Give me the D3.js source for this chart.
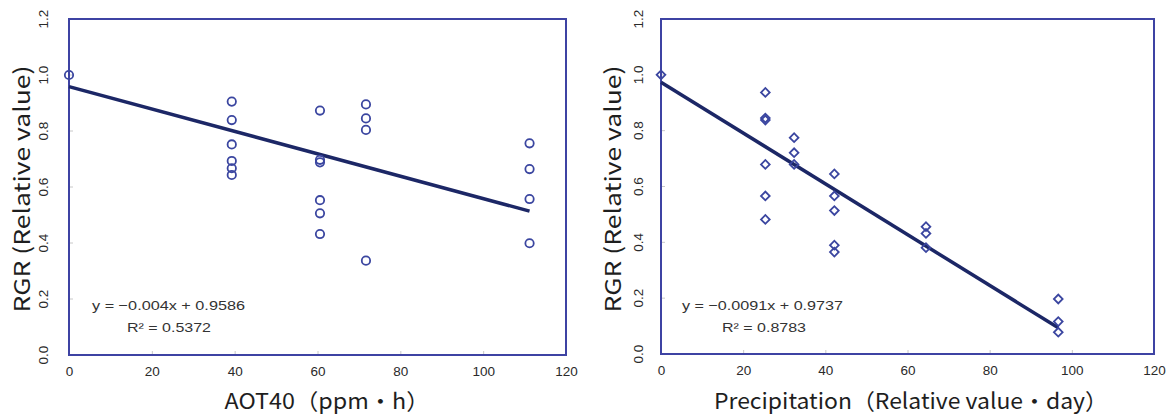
<!DOCTYPE html>
<html lang="en">
<head>
  <meta charset="UTF-8" />
  <title>RGR vs AOT40 and Precipitation</title>
  <script src="https://cdnjs.cloudflare.com/ajax/libs/d3/7.8.5/d3.min.js"></script>
  <style>
    body {
      margin: 0;
      background: #fff;
    }
    svg {
      display: block;
    }
    .tick text {
      font-family: "Liberation Sans", Arial, sans-serif;
      font-size: 13.5px;
      fill: #2a2a2a;
    }
    .tick line {
      stroke: #c8c8c8;
    }
    .title {
      font-family: "Noto Sans CJK JP", "Noto Sans", sans-serif;
      font-size: 22px;
      fill: #1e1e1e;
    }
    .eq {
      font-family: "Liberation Sans", Arial, sans-serif;
      font-size: 13.5px;
      fill: #333;
    }
  </style>
</head>
<body>
  <svg id="chart" width="1172" height="414"></svg>

  <script>
    // ticks shared by both panels
    const xTicks = [0, 20, 40, 60, 80, 100, 120];
    const yTicks = [0, 0.2, 0.4, 0.6, 0.8, 1.0, 1.2];

    // left panel: AOT40
    const aotX = [0,
      39.3, 39.3, 39.3, 39.3, 39.3, 39.3,
      60.6, 60.6, 60.6, 60.6, 60.6, 60.6,
      71.7, 71.7, 71.7, 71.7,
      111.2, 111.2, 111.2, 111.2];
    const aotY = [1.0,
      0.905, 0.839, 0.752, 0.693, 0.667, 0.643,
      0.873, 0.697, 0.688, 0.553, 0.506, 0.432,
      0.895, 0.845, 0.804, 0.337,
      0.756, 0.664, 0.557, 0.399];
    const aotFit = { slope: -0.004, intercept: 0.9586, r2: "0.5372" };

    // right panel: precipitation
    const precX = [0,
      25.4, 25.4, 25.4, 25.4, 25.4, 25.4,
      32.4, 32.4, 32.4,
      42.2, 42.2, 42.2, 42.2, 42.2,
      64.5, 64.5, 64.5,
      96.7, 96.7, 96.7];
    const precY = [1.0,
      0.937, 0.845, 0.838, 0.679, 0.566, 0.482,
      0.775, 0.721, 0.679,
      0.645, 0.566, 0.514, 0.390, 0.365,
      0.456, 0.432, 0.381,
      0.197, 0.116, 0.078];
    const precFit = { slope: -0.0091, intercept: 0.9737, r2: "0.8783" };

    const frameColor = "#3e43a3";
    const markColor = "#3b46a0";
    const fitColor = "#1c2766";

    const svg = d3.select("#chart");

    function panel(opts) {
      const x = d3.scaleLinear().domain([0, 120]).range([opts.left, opts.right]);
      const y = d3.scaleLinear().domain([0, 1.2]).range([opts.bottom, opts.top]);
      const g = svg.append("g");

      // inner ticks on the left axis, labels turned on their side
      const ya = g.append("g")
        .attr("transform", `translate(${opts.left},0)`)
        .call(d3.axisLeft(y).tickValues(yTicks).tickSize(-4).tickFormat(d3.format(".1f")));
      ya.select(".domain").remove();
      ya.selectAll(".tick").attr("transform", "translate(0,0)");
      ya.selectAll(".tick line").attr("y1", d => y(d)).attr("y2", d => y(d));
      ya.selectAll(".tick text")
        .attr("transform", d => `translate(${opts.yLabelX - opts.left},${y(d)}) rotate(-90)`)
        .attr("x", 0).attr("y", 0).attr("dy", "0.35em")
        .attr("text-anchor", "middle");

      // inner ticks on the bottom axis
      const xa = g.append("g")
        .attr("transform", `translate(0,${opts.bottom})`)
        .call(d3.axisBottom(x).tickValues(xTicks).tickSize(-4).tickPadding(11));
      xa.select(".domain").remove();
      xa.selectAll(".tick text").attr("dy", "0.71em");

      // frame
      g.append("rect")
        .attr("x", opts.left).attr("y", opts.top)
        .attr("width", opts.right - opts.left).attr("height", opts.bottom - opts.top)
        .attr("fill", "none").attr("stroke", frameColor).attr("stroke-width", 2);

      // regression line from 0 to the last x
      const xMax = d3.max(opts.xs);
      g.append("line")
        .attr("x1", x(0)).attr("y1", y(opts.fit.intercept))
        .attr("x2", x(xMax)).attr("y2", y(opts.fit.intercept + opts.fit.slope * xMax))
        .attr("stroke", fitColor).attr("stroke-width", 3.5);

      // points
      const pts = opts.xs.map((v, i) => [v, opts.ys[i]]);
      const sym = d3.symbol().type(opts.shape).size(opts.size);
      g.selectAll("path.pt")
        .data(pts)
        .enter().append("path")
        .attr("class", "pt")
        .attr("transform", d => `translate(${x(d[0])},${y(d[1])}) rotate(${opts.rot})`)
        .attr("d", sym)
        .attr("fill", "none")
        .attr("stroke", markColor)
        .attr("stroke-width", 1.8);

      // equation text
      g.append("text").attr("class", "eq")
        .attr("x", opts.eqX).attr("y", 310)
        .attr("textLength", opts.eqLen).attr("lengthAdjust", "spacingAndGlyphs")
        .text(opts.eq);
      g.append("text").attr("class", "eq")
        .attr("x", opts.r2X).attr("y", 332)
        .attr("textLength", 84).attr("lengthAdjust", "spacingAndGlyphs")
        .text("R² = " + opts.fit.r2);

      // axis titles
      g.append("text").attr("class", "title")
        .attr("transform", `translate(${opts.yTitleX},189) rotate(-90)`)
        .attr("text-anchor", "middle")
        .attr("dy", "0.35em")
        .attr("textLength", 247).attr("lengthAdjust", "spacingAndGlyphs")
        .text("RGR (Relative value)");
      g.append("text").attr("class", "title")
        .attr("x", opts.xTitleX).attr("y", 409)
        .attr("text-anchor", "middle")
        .attr("textLength", opts.xTitleLen).attr("lengthAdjust", "spacingAndGlyphs")
        .text(opts.xTitle);
    }

    panel({
      left: 69, right: 566, top: 19, bottom: 355,
      yLabelX: 43, yTitleX: 22,
      xs: aotX, ys: aotY, fit: aotFit,
      shape: d3.symbolCircle, size: 55, rot: 0,
      eq: "y = −0.004x + 0.9586", eqX: 92, eqLen: 153, r2X: 127,
      xTitle: "AOT40（ppm・h）", xTitleX: 327, xTitleLen: 205
    });

    panel({
      left: 661, right: 1154, top: 19, bottom: 354,
      yLabelX: 638, yTitleX: 613,
      xs: precX, ys: precY, fit: precFit,
      shape: d3.symbolSquare, size: 38, rot: 45,
      eq: "y = −0.0091x + 0.9737", eqX: 682, eqLen: 161, r2X: 722,
      xTitle: "Precipitation（Relative value・day）", xTitleX: 911, xTitleLen: 394
    });
  </script>
</body>
</html>
